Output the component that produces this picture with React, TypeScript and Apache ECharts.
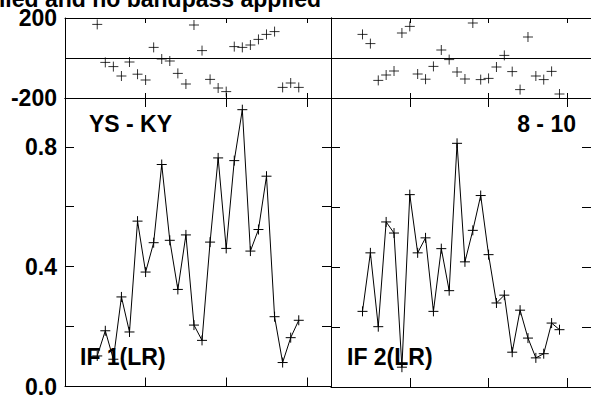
import React, { useEffect, useRef } from "react";
import * as echarts from "echarts";

// time index of each sample (same for both panels)
const times = [4, 5, 6, 7, 8, 9, 10, 11, 12, 13, 14, 15, 16, 17, 18, 19, 20, 21, 22, 23, 24, 25, 26, 27, 28, 29];

// amplitude, IF 1 (left panel) and IF 2 (right panel)
const ampLeft = [0.102, 0.186, 0.091, 0.299, 0.182, 0.552, 0.382, 0.48, 0.741, 0.488, 0.324, 0.506, 0.205, 0.154, 0.482, 0.763, 0.461, 0.754, 0.924, 0.452, 0.524, 0.702, 0.233, 0.08, 0.163, 0.221];
const ampRight = [0.252, 0.447, 0.201, 0.55, 0.513, 0.066, 0.641, 0.447, 0.497, 0.252, 0.461, 0.321, 0.812, 0.417, 0.522, 0.638, 0.441, 0.28, 0.306, 0.116, 0.256, 0.163, 0.097, 0.111, 0.213, 0.191];

// phase (degrees)
const phaseLeft = [168, -22, -43, -90, -20, -81, -110, 53, -5, -15, -77, -130, 165, 37, -107, -150, -168, 57, 53, 65, 93, 118, 132, -147, -125, -147];
const phaseRight = [118, 72, -112, -85, -65, 125, 158, -80, -106, -42, 40, -8, -70, -105, 175, -108, -102, -45, 13, -68, -158, 105, -90, -108, -67, -180];

const phaseLabels = [-200, 200];
const ampLabels = [0.0, 0.4, 0.8];

const titleText = "applied and no bandpass applied";
const baselineLabels = ["YS - KY", "8 - 10"];
const ifLabels = ["IF 1(LR)", "IF 2(LR)"];

const FONT = 'bold 23px "Liberation Sans", Arial, Helvetica, sans-serif';
const PLUS = "path://M0 5L10 5M5 0L5 10";

export default function App() {
  const ref = useRef<HTMLDivElement>(null);

  useEffect(() => {
    if (!ref.current) return;
    const chart = echarts.init(ref.current, undefined, { renderer: "svg" });

    const grids = [
      { left: 65, top: 18, width: 266, height: 80 },
      { left: 65, top: 98, width: 266, height: 289 },
      { left: 331, top: 18, width: 266, height: 80 },
      { left: 331, top: 98, width: 266, height: 289 },
    ];
    const isPhase = (g: number) => g === 0 || g === 2;

    const xAxes: any[] = [];
    const yAxes: any[] = [];
    for (let g = 0; g < 4; g++) {
      for (const pos of ["bottom", "top"]) {
        xAxes.push({
          type: "value",
          gridIndex: g,
          position: pos,
          min: 0,
          max: 33,
          interval: 10,
          axisLine: { show: true, onZero: false, lineStyle: { color: "#000", width: 1 } },
          axisTick: { show: true, inside: true, length: isPhase(g) ? 5 : 9, lineStyle: { color: "#000", width: 1 } },
          axisLabel: { show: false },
          splitLine: { show: false },
        });
      }
      for (const pos of ["left", "right"]) {
        const showLabels = pos === "left" && g < 2;
        if (isPhase(g)) {
          yAxes.push({
            type: "value",
            gridIndex: g,
            position: pos,
            min: -200,
            max: 200,
            interval: 200,
            axisLine: { show: true, onZero: false, lineStyle: { color: "#000", width: 1 } },
            axisTick: { show: true, inside: true, length: 5, lineStyle: { color: "#000" } },
            axisLabel: {
              show: showLabels,
              margin: 8,
              padding: [4, 0, 0, 0],
              color: "#000",
              fontSize: 23,
              fontWeight: "bold",
              fontFamily: '"Liberation Sans", Arial, sans-serif',
              formatter: (v: number) => (phaseLabels.includes(Math.round(v)) ? String(Math.round(v)) : ""),
            },
            splitLine: { show: pos === "left", lineStyle: { color: "#000", width: 1 } },
          });
        } else {
          yAxes.push({
            type: "value",
            gridIndex: g,
            position: pos,
            min: 0,
            max: 0.963,
            interval: 0.2,
            axisLine: { show: true, onZero: false, lineStyle: { color: "#000", width: 1 } },
            axisTick: { show: true, inside: true, length: 9, lineStyle: { color: "#000" } },
            axisLabel: {
              show: showLabels,
              margin: 8,
              color: "#000",
              fontSize: 23,
              fontWeight: "bold",
              fontFamily: '"Liberation Sans", Arial, sans-serif',
              formatter: (v: number) => {
                const r = Math.round(v * 10) / 10;
                return ampLabels.some((a) => Math.abs(a - v) < 1e-6) ? r.toFixed(1) : "";
              },
            },
            splitLine: { show: false },
          });
        }
      }
    }

    const plusStyle = { color: "rgba(0,0,0,0)", borderColor: "#000", borderWidth: 1 };

    const ampSeries = (g: number, vals: number[]) => ({
      type: "line",
      xAxisIndex: g * 2,
      yAxisIndex: g * 2,
      data: times.map((t, i) => [t, vals[i]]),
      symbol: PLUS,
      symbolSize: 10,
      showSymbol: true,
      itemStyle: plusStyle,
      lineStyle: { color: "#000", width: 1 },
      clip: false,
      silent: true,
    });
    const phaseSeries = (g: number, vals: number[]) => ({
      type: "scatter",
      xAxisIndex: g * 2,
      yAxisIndex: g * 2,
      data: times.map((t, i) => [t, vals[i]]),
      symbol: PLUS,
      symbolSize: 10,
      itemStyle: plusStyle,
      clip: false,
      silent: true,
    });

    const text = (t: string, x: number, y: number, align: string) => ({
      type: "text",
      x,
      y,
      silent: true,
      style: {
        text: t,
        fill: "#000",
        font: FONT,
        textAlign: align,
        align,
        textVerticalAlign: "middle",
        verticalAlign: "middle",
      },
    });

    chart.setOption({
      animation: false,
      backgroundColor: "#fff",
      grid: grids,
      xAxis: xAxes,
      yAxis: yAxes,
      series: [
        phaseSeries(0, phaseLeft),
        ampSeries(1, ampLeft),
        phaseSeries(2, phaseRight),
        ampSeries(3, ampRight),
      ],
      graphic: [
        text(titleText, 321, -1, "right"),
        text(baselineLabels[0], 89, 124, "left"),
        text(baselineLabels[1], 576, 124, "right"),
        text(ifLabels[0], 80, 357, "left"),
        text(ifLabels[1], 347, 357, "left"),
      ],
    });

    return () => chart.dispose();
  }, []);

  return (
    <div
      ref={ref}
      style={{ position: "fixed", left: 0, top: 0, width: 591, height: 398, overflow: "hidden", background: "#fff" }}
    />
  );
}
